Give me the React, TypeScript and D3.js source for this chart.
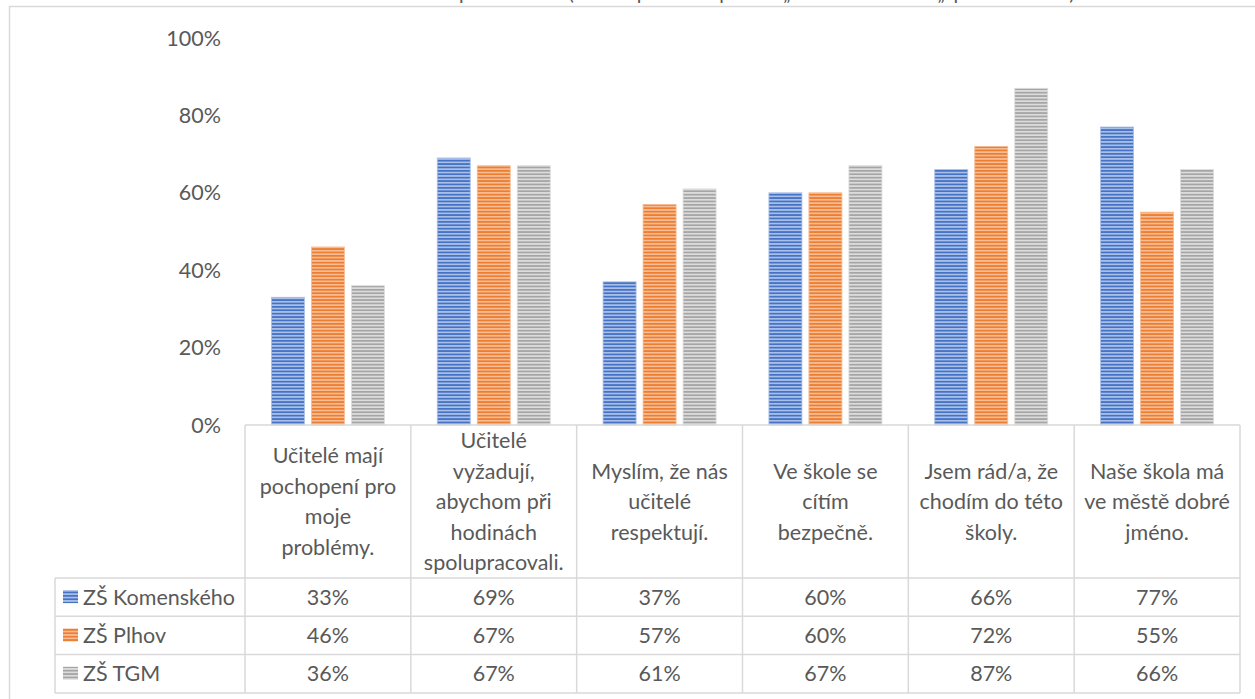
import React from 'react';
import * as d3 from 'd3';

const categories: string[][] = [
  ['Učitelé mají', 'pochopení pro', 'moje', 'problémy.'],
  ['Učitelé', 'vyžadují,', 'abychom při', 'hodinách', 'spolupracovali.'],
  ['Myslím, že nás', 'učitelé', 'respektují.'],
  ['Ve škole se', 'cítím', 'bezpečně.'],
  ['Jsem rád/a, že', 'chodím do této', 'školy.'],
  ['Naše škola má', 've městě dobré', 'jméno.'],
];
const seriesNames = ['ZŠ Komenského', 'ZŠ Plhov', 'ZŠ TGM'];
const komenskeho = [0.33, 0.69, 0.37, 0.6, 0.66, 0.77];
const plhov = [0.46, 0.67, 0.57, 0.6, 0.72, 0.55];
const tgm = [0.36, 0.67, 0.61, 0.67, 0.87, 0.66];
const yTicks = [0, 0.2, 0.4, 0.6, 0.8, 1];

const seriesValues = [komenskeho, plhov, tgm];
const colors = [
  { dark: '#4472C4', light: '#A9BFE8' },
  { dark: '#ED7D31', light: '#F6BC94' },
  { dark: '#A5A5A5', light: '#DCDCDC' },
];

const W = 1255;
const H = 699;
const font = 'Lato, "Open Sans", sans-serif';
const fs = 21.5;
const textColor = '#595959';
const lineColor = '#D9D9D9';

export default function App() {
  const plotLeft = 245;
  const plotRight = 1240;
  const y = d3.scaleLinear().domain([0, 1]).range([425, 38]);
  const x0 = d3
    .scaleBand<number>()
    .domain(d3.range(categories.length))
    .range([plotLeft, plotRight]);
  const cw = x0.bandwidth();
  const x1 = d3
    .scaleBand<number>()
    .domain(d3.range(seriesNames.length))
    .range([(cw - 113) / 2, (cw + 113) / 2])
    .paddingInner(0.175);
  const pct = d3.format('.0%');

  const tableTop = y(0);
  const labelBottom = 578;
  const rowH = 38.3;
  const rowTops = seriesNames.map((_, i) => labelBottom + i * rowH);
  const tableBottom = labelBottom + seriesNames.length * rowH;
  const legendLeft = 55;
  const lineH = 30.5;
  const labelMid = (tableTop + labelBottom) / 2;

  return (
    <svg
      width={W}
      height={H}
      style={{ position: 'absolute', left: 0, top: 0, background: '#fff' }}
      fontFamily={font}
    >
      <defs>
        {colors.map((c, i) => (
          <pattern
            key={i}
            id={`stripe${i}`}
            patternUnits="userSpaceOnUse"
            width={8}
            height={3.4}
          >
            <rect width={8} height={3.4} fill={c.light} />
            <rect width={8} height={1.7} fill={c.dark} />
          </pattern>
        ))}
      </defs>

      {/* title, cut off above the picture as in the source */}
      <text x={715} y={0} textAnchor="middle" fontSize={20} fill={textColor}>
        Srovnání odpovědí žáků (součet podílů odpovědí „rozhodně ano“ a „spíše ano“ v %)
      </text>

      {/* chart frame */}
      <rect x={9.5} y={6.5} width={W + 10} height={H + 10} fill="none" stroke={lineColor} strokeWidth={1.5} />

      {/* y axis labels */}
      {yTicks.map(t => (
        <text
          key={t}
          x={221}
          y={y(t)}
          dy="0.35em"
          textAnchor="end"
          fontSize={fs}
          fill={textColor}
        >
          {pct(t)}
        </text>
      ))}

      {/* bars */}
      {seriesValues.map((vals, s) =>
        vals.map((v, i) => (
          <rect
            key={`${s}-${i}`}
            x={(x0(i) ?? 0) + (x1(s) ?? 0)}
            y={y(v)}
            width={x1.bandwidth()}
            height={y(0) - y(v)}
            fill={`url(#stripe${s})`}
            stroke={colors[s].light}
            strokeWidth={0.8}
          />
        ))
      )}

      {/* data table lines */}
      <g stroke={lineColor} strokeWidth={1.5} fill="none">
        <line x1={plotLeft} x2={plotRight} y1={tableTop} y2={tableTop} />
        {[...rowTops, tableBottom].map((ty, i) => (
          <line key={i} x1={legendLeft} x2={plotRight} y1={ty} y2={ty} />
        ))}
        <line x1={legendLeft} x2={legendLeft} y1={labelBottom} y2={tableBottom} />
        {d3.range(categories.length + 1).map(i => {
          const lx = plotLeft + i * cw;
          return <line key={i} x1={lx} x2={lx} y1={tableTop} y2={tableBottom} />;
        })}
      </g>

      {/* category labels */}
      {categories.map((lines, i) => (
        <text
          key={i}
          textAnchor="middle"
          fontSize={fs}
          fill={textColor}
        >
          {lines.map((ln, k) => (
            <tspan
              key={k}
              x={(x0(i) ?? 0) + cw / 2}
              y={labelMid + (k - (lines.length - 1) / 2) * lineH}
              dy="0.35em"
            >
              {ln}
            </tspan>
          ))}
        </text>
      ))}

      {/* legend + values rows */}
      {seriesNames.map((name, s) => {
        const cy = rowTops[s] + rowH / 2;
        return (
          <g key={name}>
            <rect x={63} y={cy - 7} width={15} height={13} fill={`url(#stripe${s})`} />
            <text x={83} y={cy} dy="0.35em" fontSize={fs} fill={textColor}>
              {name}
            </text>
            {seriesValues[s].map((v, i) => (
              <text
                key={i}
                x={(x0(i) ?? 0) + cw / 2}
                y={cy}
                dy="0.35em"
                textAnchor="middle"
                fontSize={fs}
                fill={textColor}
              >
                {pct(v)}
              </text>
            ))}
          </g>
        );
      })}
    </svg>
  );
}
